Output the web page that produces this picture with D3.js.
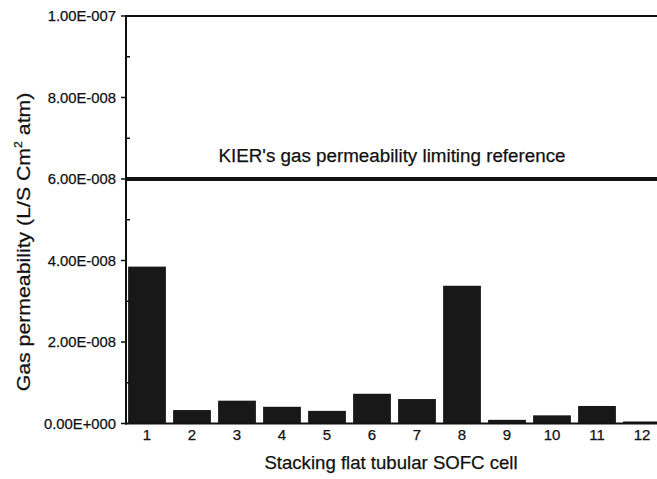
<!DOCTYPE html>
<html>
<head>
<meta charset="utf-8">
<script src="https://cdn.jsdelivr.net/npm/d3@7"></script>
<style>
  body { margin: 0; background: #fff; }
  text { font-family: "Liberation Sans", Arial, sans-serif; fill: #111; stroke: #111; stroke-width: 0.25px; }
</style>
</head>
<body>
<div id="chart"></div>
<script>
// cells and their measured gas permeability (L/S Cm^2 atm)
var cells = ["1", "2", "3", "4", "5", "6", "7", "8", "9", "10", "11", "12"];
var permeability = [3.85e-8, 0.33e-8, 0.56e-8, 0.41e-8, 0.31e-8, 0.73e-8, 0.60e-8, 3.38e-8, 0.09e-8, 0.20e-8, 0.43e-8, 0.05e-8];
var yTicks = [0, 2e-8, 4e-8, 6e-8, 8e-8, 1e-7];
var yTickLabels = ["0.00E+000", "2.00E-008", "4.00E-008", "6.00E-008", "8.00E-008", "1.00E-007"];
var yMinorTicks = [1e-8, 3e-8, 5e-8, 7e-8, 9e-8];
var limitValue = 6e-8;
var limitLabel = "KIER's gas permeability limiting reference";

var width = 657, height = 479;
var plotLeft = 125, plotTop = 16, plotBottom = 423.5;

var svg = d3.select("#chart").append("svg")
    .attr("width", width)
    .attr("height", height);

var x = d3.scaleBand()
    .domain(cells)
    .range([124.5, 664.5])
    .paddingInner(0.16)
    .paddingOuter(0.08);

var y = d3.scaleLinear()
    .domain([0, 1e-7])
    .range([plotBottom, plotTop]);

// bars
svg.append("g")
    .selectAll("rect")
    .data(permeability)
    .enter().append("rect")
        .attr("x", function(d, i) { return x(cells[i]); })
        .attr("y", function(d) { return y(d); })
        .attr("width", x.bandwidth())
        .attr("height", function(d) { return y(0) - y(d); })
        .attr("fill", "#181818");

// frame: left axis, top line, bottom axis
svg.append("line")
    .attr("x1", plotLeft + 1).attr("x2", plotLeft + 1)
    .attr("y1", plotTop).attr("y2", plotBottom + 1)
    .attr("stroke", "#111").attr("stroke-width", 2);
svg.append("line")
    .attr("x1", plotLeft).attr("x2", width)
    .attr("y1", plotTop).attr("y2", plotTop)
    .attr("stroke", "#111").attr("stroke-width", 2);
svg.append("line")
    .attr("x1", plotLeft).attr("x2", width)
    .attr("y1", plotBottom).attr("y2", plotBottom)
    .attr("stroke", "#111").attr("stroke-width", 2);

// y ticks
var yg = svg.append("g");
yg.selectAll("line.major")
    .data(yTicks)
    .enter().append("line")
        .attr("class", "major")
        .attr("x1", plotLeft - 4).attr("x2", plotLeft + 1)
        .attr("y1", function(d) { return y(d); })
        .attr("y2", function(d) { return y(d); })
        .attr("stroke", "#111").attr("stroke-width", 1.5);
yg.selectAll("line.minor")
    .data(yMinorTicks)
    .enter().append("line")
        .attr("class", "minor")
        .attr("x1", plotLeft + 1).attr("x2", plotLeft + 5)
        .attr("y1", function(d) { return y(d); })
        .attr("y2", function(d) { return y(d); })
        .attr("stroke", "#111").attr("stroke-width", 1.5);
yg.selectAll("text")
    .data(yTicks)
    .enter().append("text")
        .attr("x", 116)
        .attr("y", function(d) { return y(d) + 5; })
        .attr("text-anchor", "end")
        .style("font-size", "14.8px")
        .text(function(d, i) { return yTickLabels[i]; });

// x tick labels
svg.append("g")
    .selectAll("text")
    .data(cells)
    .enter().append("text")
        .attr("x", function(d) { return x(d) + x.bandwidth() / 2; })
        .attr("y", 440)
        .attr("text-anchor", "middle")
        .style("font-size", "15px")
        .text(function(d) { return d; });

// limiting reference line
svg.append("line")
    .attr("x1", plotLeft + 2).attr("x2", width)
    .attr("y1", y(limitValue)).attr("y2", y(limitValue))
    .attr("stroke", "#111").attr("stroke-width", 4);
svg.append("text")
    .attr("x", 392)
    .attr("y", 162)
    .attr("text-anchor", "middle")
    .style("font-size", "18.8px")
    .text(limitLabel);

// axis titles
svg.append("text")
    .attr("x", 391)
    .attr("y", 469)
    .attr("text-anchor", "middle")
    .style("font-size", "18.6px")
    .text("Stacking flat tubular SOFC cell");

// the scan is a bit stretched vertically, so the rotated title runs longer
var yTitle = svg.append("text")
    .attr("transform", "translate(30, 242) rotate(-90) scale(1.12, 1)")
    .attr("text-anchor", "middle")
    .style("font-size", "19px");
yTitle.append("tspan").text("Gas permeability (L/S Cm");
yTitle.append("tspan").attr("dy", -8).style("font-size", "11px").text("2");
yTitle.append("tspan").attr("dy", 8).text(" atm)");
</script>
</body>
</html>
